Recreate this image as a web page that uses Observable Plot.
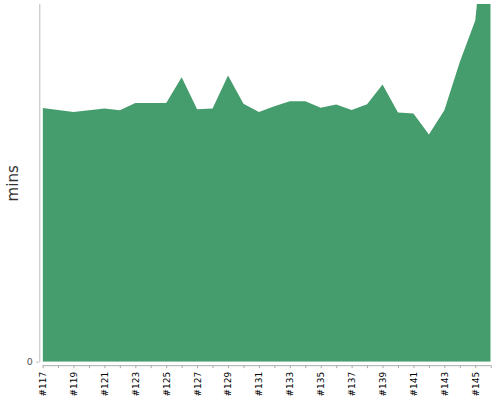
<!DOCTYPE html>
<html>
<head>
<meta charset="utf-8">
<script src="https://cdn.jsdelivr.net/npm/d3@7"></script>
<script src="https://cdn.jsdelivr.net/npm/@observablehq/plot@0.6"></script>
<style>
  html, body { margin: 0; padding: 0; background: #fff; }
  #chart { width: 500px; height: 400px; }
</style>
</head>
<body>
<div id="chart"></div>
<script>
const builds = ["#117","#118","#119","#120","#121","#122","#123","#124","#125","#126",
                "#127","#128","#129","#130","#131","#132","#133","#134","#135","#136",
                "#137","#138","#139","#140","#141","#142","#143","#144","#145","#146"];
const mins = [70.9, 70.4, 69.8, 70.3, 70.8, 70.3, 72.3, 72.3, 72.3, 79.5,
              70.6, 70.8, 80.0, 72.1, 69.8, 71.4, 72.8, 72.8, 71.0, 71.9,
              70.4, 72.0, 77.5, 69.7, 69.4, 63.5, 70.3, 83.8, 95.4, 137.5];
const yTicks = [0];
const yLabel = "mins";

const data = builds.map((b, i) => ({build: b, mins: mins[i]}));

const chart = Plot.plot({
  width: 500,
  height: 400,
  marginLeft: 42.6,
  marginRight: 9.3,
  marginTop: 4,
  marginBottom: 38.3,
  style: {fontFamily: "'DejaVu Sans', sans-serif", background: "#fff"},
  x: {type: "point", domain: builds, padding: 0, round: false},
  y: {domain: [0, 100]},
  marks: [
    Plot.areaY(data, {x: "build", y: "mins", fill: "#459c6c", clip: true}),
    Plot.ruleY([0], {dy: 3.5, stroke: "#aaa", strokeWidth: 1}),
    Plot.ruleX([builds[0]], {dx: -3.3, stroke: "#bbb", strokeWidth: 1}),
    Plot.axisX({
      tickSize: 3,
      tickPadding: 3,
      dy: 3.5,
      tickRotate: -90,
      stroke: "#aaa",
      color: "#000",
      fontSize: 9,
      label: null,
      tickFormat: d => builds.indexOf(d) % 2 === 0 ? d : ""
    }),
    Plot.axisY({
      ticks: yTicks,
      tickSize: 3,
      tickPadding: 4,
      dx: -3.3,
      stroke: "#bbb",
      color: "#555",
      fontSize: 9.5,
      label: null
    }),
    Plot.text([yLabel], {
      frameAnchor: "left",
      textAnchor: "middle",
      rotate: -90,
      dx: -30,
      fontSize: 15,
      fill: "#333"
    })
  ]
});
document.getElementById("chart").appendChild(chart);
</script>
</body>
</html>
